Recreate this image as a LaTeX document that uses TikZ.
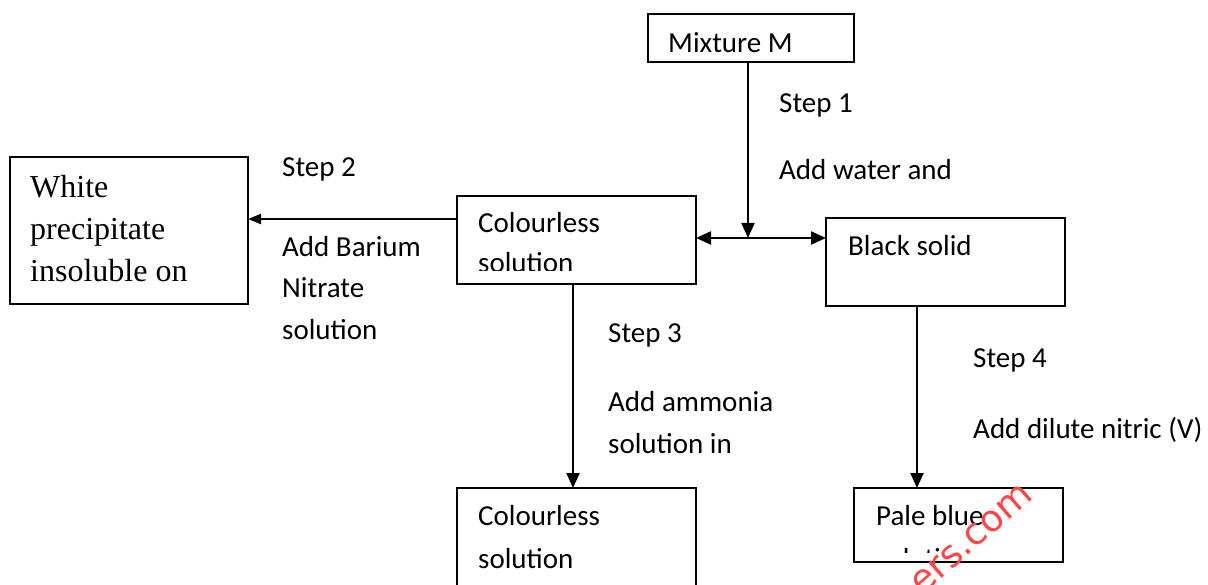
\documentclass[tikz,border=0pt]{standalone}
\usepackage{fontspec}
\setmainfont{Carlito}
\newfontfamily\tnr{Liberation Serif}
\newfontfamily\wmfont{DejaVu Sans}
\usetikzlibrary{arrows.meta}
\definecolor{wm}{RGB}{255,70,70}
\begin{document}
\begin{tikzpicture}[x=1pt,y=-1pt,
  box/.style={draw, line width=2.2pt, rectangle, inner sep=0pt, outer sep=0pt, anchor=north west},
  lbl/.style={anchor=base west, inner sep=0pt, font=\fontsize{29}{35}\selectfont},
  ser/.style={anchor=base west, inner sep=0pt, font=\tnr\fontsize{32}{38}\selectfont},
  conn/.style={line width=2.2pt},
  tipbig/.style={-{Triangle[length=15pt,width=13pt]}},
  tipboth/.style={{Triangle[length=15pt,width=13pt]}-{Triangle[length=15pt,width=13pt]}},
  tipsmall/.style={-{Triangle[length=13pt,width=10pt]}},
]
\useasboundingbox (0,0) rectangle (1208,585);
\clip (0,0) rectangle (1208,585);
\fill[white] (0,0) rectangle (1208,585);

% boxes
\node[box, minimum width=206pt, minimum height=48pt] (mix) at (648,14) {};
\node[box, minimum width=239pt, minimum height=88pt] (cs1) at (457,196) {};
\node[box, minimum width=238pt, minimum height=147pt] (white) at (10,157) {};
\node[box, minimum width=239pt, minimum height=88pt] (black) at (826,218) {};
\node[box, minimum width=239pt, minimum height=130pt] (cs2) at (457,488) {};
\node[box, minimum width=209pt, minimum height=74pt] (pale) at (854,488) {};

% box texts
\node[lbl] (tmix) at (668,53) {Mixture M};
\node[lbl] (tcs1a) at (478,233) {Colourless};
\begin{scope}
  \clip (457,196) rectangle (696,271);
  \node[lbl] (tcs1b) at (478,273) {solution};
\end{scope}
\node[lbl] (tblack) at (848,256) {Black solid};
\node[ser] (tw1) at (30,198) {White};
\node[ser] (tw2) at (30,240) {precipitate};
\node[ser] (tw3) at (30,282) {insoluble on};
\node[lbl] (tcs2a) at (478,525) {Colourless};
\node[lbl] (tcs2b) at (478,568) {solution};
\node[lbl] (tpa) at (876,525) {Pale blue};
\begin{scope}
  \clip (854,488) rectangle (1063,552);
  \node[lbl] (tpb) at (876,568) {solution};
\end{scope}

% step labels
\node[lbl] (s1a) at (779,113) {Step 1};
\node[lbl] (s1b) at (779,180) {Add water and};
\node[lbl] (s2a) at (282,177) {Step 2};
\node[lbl] (s2b) at (282,257) {Add Barium};
\node[lbl] (s2c) at (282,298) {Nitrate};
\node[lbl] (s2d) at (282,340) {solution};
\node[lbl] (s3a) at (608,343) {Step 3};
\node[lbl] (s3b) at (608,411) {Add ammonia};
\node[lbl] (s3c) at (608,453) {solution in};
\node[lbl] (s4a) at (973,367) {Step 4};
\node[lbl] (s4b) at (973,438) {Add dilute nitric (V)};

% connectors
\coordinate (j) at (748,238);
\coordinate (y2) at (0,219);
\coordinate (x3) at (573,0);
\coordinate (x4) at (917,0);
\draw[conn,tipbig] (mix.south -| j) -- (j);
\draw[conn,tipboth] (cs1.east |- j) -- (black.west |- j);
\draw[conn,tipsmall] (cs1.west |- y2) -- (white.east |- y2);
\draw[conn,tipbig] (cs1.south -| x3) -- (cs2.north -| x3);
\draw[conn,tipbig] (black.south -| x4) -- (pale.north -| x4);

% watermark
\node[inner sep=0pt, text=wm, rotate=41, font=\wmfont\fontsize{37}{40}\selectfont] (wmark) at (972,539) {ers.com};
\end{tikzpicture}
\end{document}
